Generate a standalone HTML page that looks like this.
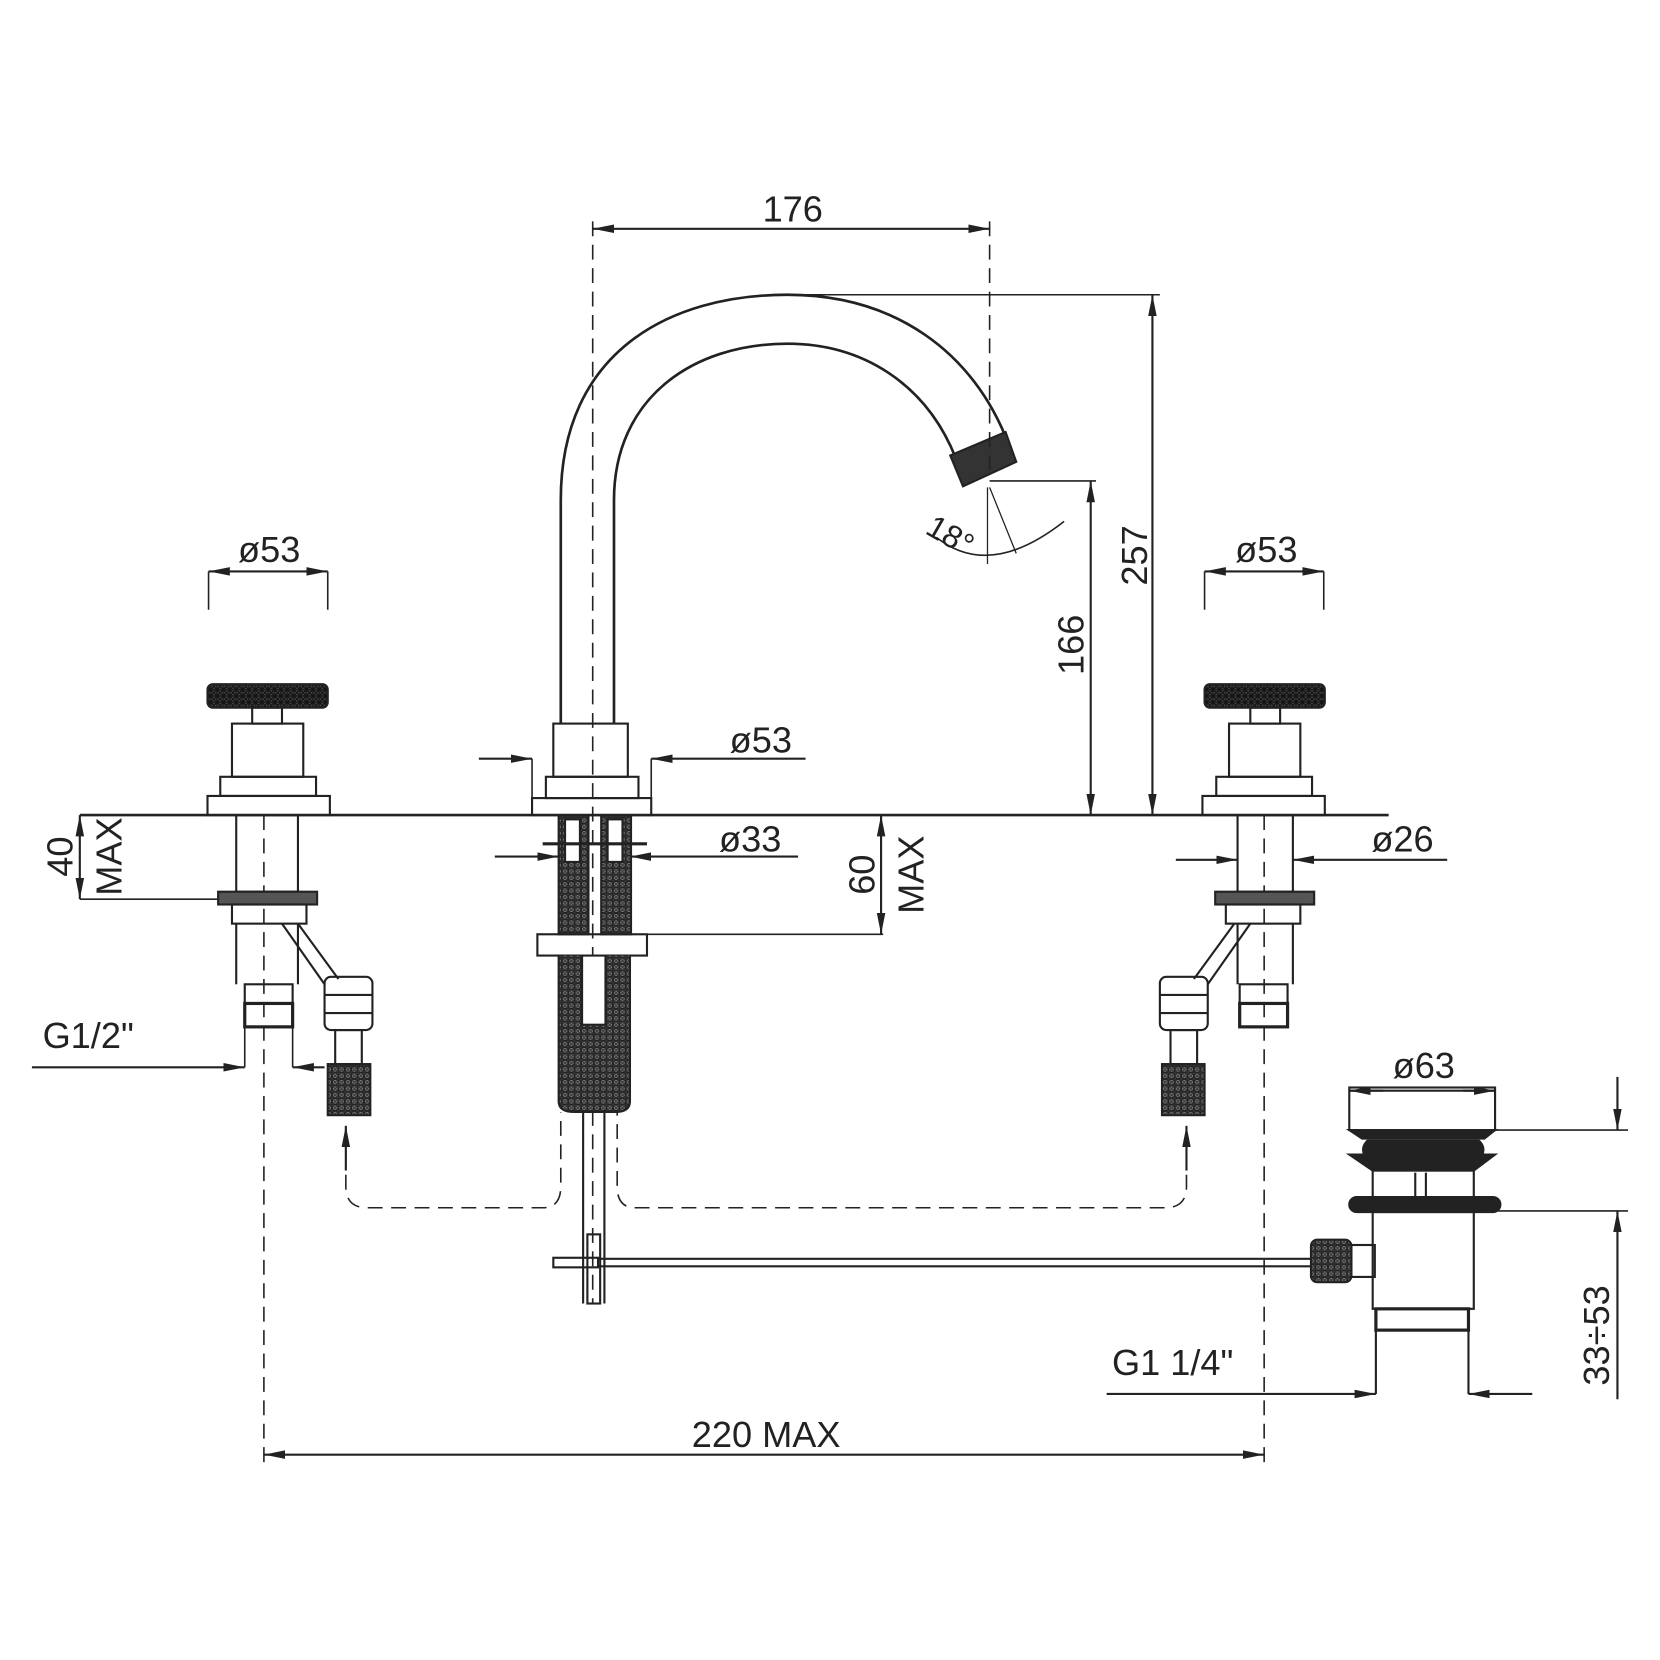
<!DOCTYPE html>
<html><head><style>html,body{margin:0;padding:0;background:#fff}svg{display:block}</style></head>
<body>
<svg width="1660" height="1660" viewBox="0 0 1560 1560" xmlns="http://www.w3.org/2000/svg" font-family="Liberation Sans, sans-serif" font-size="34" fill="none" stroke="#222" stroke-width="2">
<defs>
<marker id="a" viewBox="0 0 20 10" refX="20" refY="5" markerWidth="20" markerHeight="10" markerUnits="userSpaceOnUse" orient="auto-start-reverse"><path d="M0,1 L20,5 L0,9z" fill="#222" stroke="none"/></marker>
<pattern id="h" width="6" height="6" patternUnits="userSpaceOnUse"><rect width="6" height="6" fill="#888"/><path d="M0,0 L6,6 M6,0 L0,6" stroke="#333" stroke-width="1"/></pattern>
<pattern id="k" width="6" height="6" patternUnits="userSpaceOnUse"><rect width="6" height="6" fill="#555"/><path d="M0,0 L6,6 M6,0 L0,6" stroke="#111" stroke-width="1.2"/></pattern>
</defs>
<line x1="75" y1="766" x2="1305" y2="766" stroke-width="2.5"/>
<path d="M527,680 V470 C527,330 630,277 740,277 C840,277 915,330 948,418" stroke-width="2.5"/>
<path d="M577,680 V470 C577,375 650,323 740,323 C810,323 870,360 898,430" stroke-width="2.5"/>
<path d="M893,428 L945,406 L955,434 L905,457 Z" fill="#333"/>
<rect x="520" y="680" width="70" height="50"/>
<rect x="513" y="730" width="87" height="20"/>
<rect x="500" y="750" width="112" height="16"/>
<line x1="557" y1="215" x2="930" y2="215" marker-start="url(#a)" marker-end="url(#a)"/>
<line x1="557" y1="208" x2="557" y2="1225" stroke-dasharray="14,8" stroke-width="1.5"/>
<line x1="930" y1="208" x2="930" y2="450" stroke-dasharray="14,8" stroke-width="1.5"/>
<text x="745" y="208" text-anchor="middle" fill="#222" stroke="none">176</text>
<line x1="740" y1="277" x2="1090" y2="277" stroke-width="1.5"/>
<line x1="1083" y1="277" x2="1083" y2="766" marker-start="url(#a)" marker-end="url(#a)"/>
<text transform="translate(1078,522) rotate(-90)" text-anchor="middle" fill="#222" stroke="none">257</text>
<line x1="930" y1="452" x2="1030" y2="452" stroke-width="1.5"/>
<line x1="1025" y1="452" x2="1025" y2="766" marker-start="url(#a)" marker-end="url(#a)"/>
<text transform="translate(1018,606) rotate(-90)" text-anchor="middle" fill="#222" stroke="none">166</text>
<line x1="928" y1="458" x2="928" y2="530" stroke-width="1.2"/>
<line x1="930" y1="458" x2="955" y2="520" stroke-width="1.2"/>
<path d="M880,505 Q930,545 1000,490" stroke-width="1.5"/>
<text transform="translate(888,512) rotate(30)" text-anchor="middle" font-size="30" fill="#222" stroke="none">18°</text>
<line x1="450" y1="713" x2="500" y2="713" marker-end="url(#a)"/>
<line x1="757" y1="713" x2="612" y2="713" marker-end="url(#a)"/>
<line x1="500" y1="713" x2="500" y2="750" stroke-width="1.5"/>
<line x1="612" y1="713" x2="612" y2="750" stroke-width="1.5"/>
<text x="715" y="707" text-anchor="middle" fill="#222" stroke="none">ø53</text>
<rect x="525" y="766" width="28" height="112" fill="url(#h)"/>
<rect x="565" y="766" width="28" height="112" fill="url(#h)"/>
<rect x="531" y="770" width="14" height="40" fill="#fff"/>
<rect x="571" y="770" width="14" height="40" fill="#fff"/>
<line x1="510" y1="793" x2="608" y2="793" stroke-width="3"/>
<rect x="505" y="878" width="103" height="20"/>
<path d="M525,898 V1035 Q525,1045 540,1045 H578 Q592,1045 592,1035 V898" fill="url(#h)"/>
<rect x="547" y="898" width="22" height="65" fill="#fff"/>
<line x1="548" y1="1045" x2="548" y2="1225"/>
<line x1="568" y1="1045" x2="568" y2="1225"/>
<line x1="465" y1="805" x2="525" y2="805" marker-end="url(#a)"/>
<line x1="750" y1="805" x2="592" y2="805" marker-end="url(#a)"/>
<text x="705" y="800" text-anchor="middle" fill="#222" stroke="none">ø33</text>
<line x1="608" y1="878" x2="830" y2="878" stroke-width="1.5"/>
<line x1="828" y1="766" x2="828" y2="878" marker-start="url(#a)" marker-end="url(#a)"/>
<text transform="translate(822,822) rotate(-90)" text-anchor="middle" fill="#222" stroke="none">60</text>
<text transform="translate(868,822) rotate(-90)" text-anchor="middle" fill="#222" stroke="none">MAX</text>
<path d="M325,1060 V1115 Q325,1135 345,1135 H510 Q527,1135 527,1115 V1045" stroke-dasharray="14,8" stroke-width="1.5"/>
<path d="M1115,1060 V1115 Q1115,1135 1095,1135 H597 Q580,1135 580,1115 V1045" stroke-dasharray="14,8" stroke-width="1.5"/>
<line x1="325" y1="1100" x2="325" y2="1058" marker-end="url(#a)"/>
<line x1="1115" y1="1100" x2="1115" y2="1058" marker-end="url(#a)"/>
<rect x="520" y="1182" width="42" height="9"/>
<rect x="552" y="1160" width="12" height="65"/>
<line x1="562" y1="1183" x2="1235" y2="1183"/>
<line x1="562" y1="1190" x2="1235" y2="1190"/>
<rect x="1232" y="1165" width="38" height="40" rx="6" fill="url(#h)"/>
<rect x="1270" y="1170" width="22" height="30"/>
<rect x="1268" y="1022" width="137" height="40"/>
<path d="M1268,1062 H1405 L1395,1070 H1280 Z" fill="#222"/>
<path d="M1285,1072 H1390 Q1398,1080 1390,1090 H1285 Q1277,1080 1285,1072Z" fill="#222"/>
<path d="M1268,1085 L1405,1085 L1385,1100 L1290,1100 Z" fill="#222"/>
<rect x="1290" y="1100" width="95" height="28"/>
<line x1="1330" y1="1102" x2="1330" y2="1128"/><line x1="1340" y1="1102" x2="1340" y2="1128"/>
<rect x="1268" y="1125" width="142" height="14" rx="7" fill="#222"/>
<rect x="1290" y="1139" width="95" height="91"/>
<rect x="1293" y="1230" width="87" height="20" stroke-width="3"/>
<line x1="1293" y1="1250" x2="1293" y2="1310"/><line x1="1380" y1="1250" x2="1380" y2="1310"/>
<line x1="1300" y1="1025" x2="1268" y2="1025" marker-end="url(#a)"/>
<line x1="1375" y1="1025" x2="1405" y2="1025" marker-end="url(#a)"/>
<line x1="1268" y1="1025" x2="1405" y2="1025"/>
<text x="1338" y="1013" text-anchor="middle" fill="#222" stroke="none">ø63</text>
<line x1="1405" y1="1062" x2="1530" y2="1062" stroke-width="1.5"/>
<line x1="1405" y1="1138" x2="1530" y2="1138" stroke-width="1.5"/>
<line x1="1520" y1="1012" x2="1520" y2="1062" marker-end="url(#a)"/>
<line x1="1520" y1="1315" x2="1520" y2="1138" marker-end="url(#a)"/>
<text transform="translate(1512,1255) rotate(-90)" text-anchor="middle" fill="#222" stroke="none">33÷53</text>
<line x1="1040" y1="1310" x2="1293" y2="1310" marker-end="url(#a)"/>
<line x1="1440" y1="1310" x2="1380" y2="1310" marker-end="url(#a)"/>
<text x="1045" y="1292" fill="#222" stroke="none">G1  1/4"</text>
<line x1="248" y1="766" x2="248" y2="1375" stroke-dasharray="14,8" stroke-width="1.5"/>
<line x1="1188" y1="766" x2="1188" y2="1375" stroke-dasharray="14,8" stroke-width="1.5"/>
<line x1="248" y1="1367" x2="1188" y2="1367" marker-start="url(#a)" marker-end="url(#a)"/>
<text x="720" y="1360" text-anchor="middle" fill="#222" stroke="none">220  MAX</text>
<g>
<rect x="195" y="643" width="113" height="22" rx="5" fill="url(#k)"/>
<rect x="237" y="665" width="28" height="15"/>
<rect x="218" y="680" width="67" height="50"/>
<rect x="207" y="730" width="90" height="18"/>
<rect x="195" y="748" width="115" height="18"/>
<rect x="222" y="766" width="58" height="72"/>
<rect x="205" y="838" width="93" height="12" fill="#555"/>
<rect x="218" y="850" width="70" height="18"/>
<line x1="222" y1="868" x2="222" y2="925"/><line x1="280" y1="868" x2="280" y2="925"/>
<rect x="230" y="925" width="45" height="18"/>
<rect x="230" y="943" width="45" height="22" stroke-width="3"/>
<path d="M265,868 L305,925 M280,868 L318,920"/>
<rect x="305" y="918" width="45" height="50" rx="6"/>
<line x1="305" y1="935" x2="350" y2="935"/><line x1="305" y1="952" x2="350" y2="952"/>
<rect x="315" y="968" width="25" height="32"/>
<rect x="308" y="1000" width="40" height="48" fill="url(#h)"/>
</g>
<line x1="196" y1="537" x2="196" y2="573" stroke-width="1.5"/>
<line x1="308" y1="537" x2="308" y2="573" stroke-width="1.5"/>
<line x1="196" y1="537" x2="308" y2="537" marker-start="url(#a)" marker-end="url(#a)"/>
<text x="253" y="528" text-anchor="middle" fill="#222" stroke="none">ø53</text>
<line x1="75" y1="845" x2="205" y2="845" stroke-width="1.5"/>
<line x1="75" y1="766" x2="75" y2="845" marker-start="url(#a)" marker-end="url(#a)"/>
<text transform="translate(68,805) rotate(-90)" text-anchor="middle" fill="#222" stroke="none">40</text>
<text transform="translate(114,805) rotate(-90)" text-anchor="middle" fill="#222" stroke="none">MAX</text>
<line x1="30" y1="1003" x2="230" y2="1003" marker-end="url(#a)"/>
<line x1="305" y1="1003" x2="275" y2="1003" marker-end="url(#a)"/>
<line x1="230" y1="965" x2="230" y2="1003" stroke-width="1.5"/>
<line x1="275" y1="965" x2="275" y2="1003" stroke-width="1.5"/>
<text x="40" y="985" fill="#222" stroke="none">G1/2"</text>
<g transform="translate(1440,0) scale(-1,1)">
<rect x="195" y="643" width="113" height="22" rx="5" fill="url(#k)"/>
<rect x="237" y="665" width="28" height="15"/>
<rect x="218" y="680" width="67" height="50"/>
<rect x="207" y="730" width="90" height="18"/>
<rect x="195" y="748" width="115" height="18"/>
<rect x="225" y="766" width="52" height="72"/>
<rect x="205" y="838" width="93" height="12" fill="#555"/>
<rect x="218" y="850" width="70" height="18"/>
<line x1="225" y1="868" x2="225" y2="925"/><line x1="277" y1="868" x2="277" y2="925"/>
<rect x="230" y="925" width="45" height="18"/>
<rect x="230" y="943" width="45" height="22" stroke-width="3"/>
<path d="M265,868 L305,925 M280,868 L318,920"/>
<rect x="305" y="918" width="45" height="50" rx="6"/>
<line x1="305" y1="935" x2="350" y2="935"/><line x1="305" y1="952" x2="350" y2="952"/>
<rect x="315" y="968" width="25" height="32"/>
<rect x="308" y="1000" width="40" height="48" fill="url(#h)"/>
</g>
<line x1="1132" y1="537" x2="1132" y2="573" stroke-width="1.5"/>
<line x1="1244" y1="537" x2="1244" y2="573" stroke-width="1.5"/>
<line x1="1132" y1="537" x2="1244" y2="537" marker-start="url(#a)" marker-end="url(#a)"/>
<text x="1190" y="528" text-anchor="middle" fill="#222" stroke="none">ø53</text>
<line x1="1105" y1="808" x2="1163" y2="808" marker-end="url(#a)"/>
<line x1="1360" y1="808" x2="1215" y2="808" marker-end="url(#a)"/>
<text x="1318" y="800" text-anchor="middle" fill="#222" stroke="none">ø26</text>
</svg>
</body></html>
